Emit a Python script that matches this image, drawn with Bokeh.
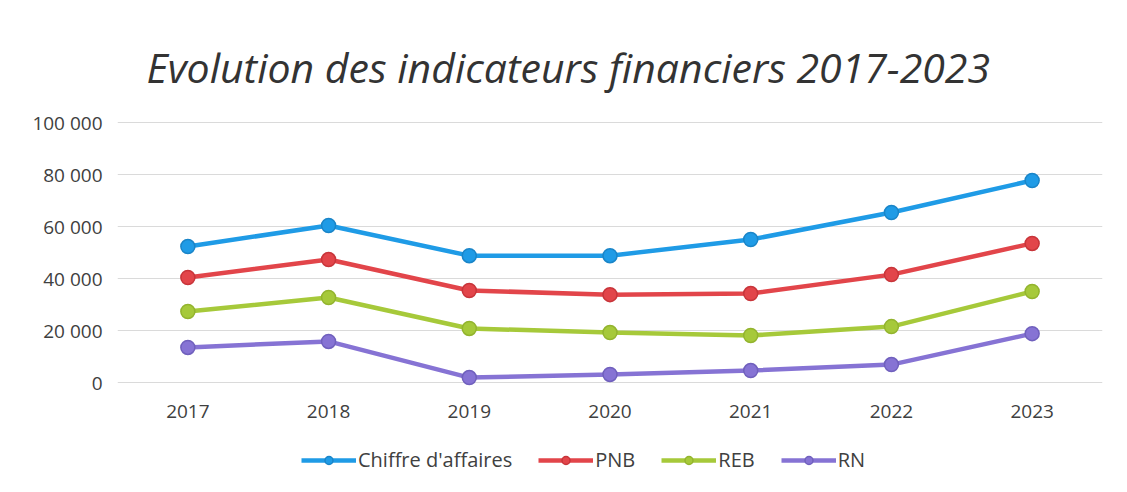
from bokeh.plotting import figure
from bokeh.models import Range1d, FixedTicker, Legend, LegendItem
from bokeh.embed import file_html
from bokeh.resources import INLINE

years = ["2017", "2018", "2019", "2020", "2021", "2022", "2023"]
chiffre_affaires = [52300, 60400, 48800, 48800, 55000, 65400, 77700]
pnb = [40400, 47300, 35400, 33800, 34200, 41500, 53500]
reb = [27300, 32700, 20800, 19200, 18100, 21500, 35000]
rn = [13500, 15800, 1900, 3100, 4600, 6900, 18800]
series_names = ["Chiffre d'affaires", "PNB", "REB", "RN"]
series_values = [chiffre_affaires, pnb, reb, rn]
colors = ["#1f9be6", "#e2454a", "#a6c93a", "#8673d4"]
outline_colors = ["#1a85c8", "#c8353a", "#93b42e", "#7060bd"]
y_ticks = [0, 20000, 40000, 60000, 80000, 100000]
y_tick_labels = ["0", "20 000", "40 000", "60 000", "80 000", "100 000"]

# frame extends below 0 so that the legend can live inside it
p = figure(width=1111, height=484, x_range=years, y_range=Range1d(-36923, 100400),
           output_backend="svg", toolbar_location=None,
           min_border_left=117, min_border_right=9, min_border_top=121,
           min_border_bottom=6)
p.title.text = "Evolution des indicateurs financiers 2017-2023"
p.title.text_font = "Open Sans"
p.title.text_font_style = "italic"
p.title.text_font_size = "41px"
p.title.text_color = "#333333"
p.title.align = "left"
p.title.standoff = 54
p.title.offset = 29

p.outline_line_color = None
p.background_fill_color = "white"
p.border_fill_color = "white"

p.xgrid.grid_line_color = None
p.ygrid.grid_line_color = "#dadada"
p.ygrid.grid_line_width = 1
p.yaxis.ticker = FixedTicker(ticks=y_ticks)
p.ygrid.ticker = FixedTicker(ticks=y_ticks)
p.yaxis.major_label_overrides = {t: l for t, l in zip(y_ticks, y_tick_labels)}
for ax in (p.xaxis, p.yaxis):
    ax.axis_line_color = None
    ax.major_tick_line_color = None
    ax.minor_tick_line_color = None
    ax.major_label_text_font = "Open Sans"
    ax.major_label_text_font_size = "19px"
    ax.major_label_text_color = "#404040"
p.yaxis.major_label_standoff = 9
p.xaxis.major_label_standoff = 16
p.xaxis.fixed_location = 0

items = []
for name, vals, c, oc in zip(series_names, series_values, colors, outline_colors):
    r1 = p.line(years, vals, line_color=c, line_width=4.5)
    r2 = p.scatter(years, vals, size=14, fill_color=c, line_color=oc, line_width=1.5)
    items.append(LegendItem(label=name, renderers=[r1, r2]))

legend = Legend(items=items, orientation="horizontal", location=(184, 5),
                label_text_font="Open Sans", label_text_font_size="20px",
                label_text_color="#404040", glyph_width=55, glyph_height=20,
                label_standoff=2, spacing=26, border_line_color=None,
                background_fill_alpha=0, padding=0, margin=0)
p.add_layout(legend, "center")

open("out.html", "w").write(file_html(p, INLINE))
